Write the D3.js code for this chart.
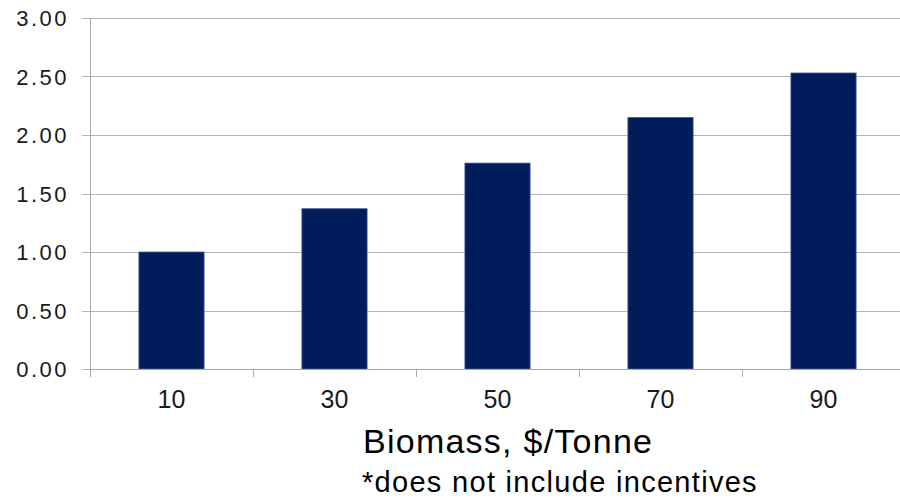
<!DOCTYPE html>
<html>
<head>
<meta charset="utf-8">
<script src="https://cdn.jsdelivr.net/npm/d3@7"></script>
<style>
  html, body { margin: 0; padding: 0; background: #fff; }
  svg { display: block; font-family: "Liberation Sans", Arial, sans-serif; }
</style>
</head>
<body>
<svg id="chart" width="900" height="498"></svg>
<script>
// Biomass price categories ($/tonne) and the resulting values
const categories = ["10", "30", "50", "70", "90"];
const values = [1.00, 1.37, 1.76, 2.15, 2.53];
const yTicks = [0, 0.5, 1.0, 1.5, 2.0, 2.5, 3.0];
const axisTitle = "Biomass, $/Tonne";
const footnote = "*does not include incentives";

const svg = d3.select("#chart");

const plot = { left: 90, right: 905, top: 18, bottom: 369 };

const x = d3.scaleBand()
  .domain(categories)
  .range([plot.left, plot.right])
  .paddingInner(0.6)
  .paddingOuter(0.3);

const y = d3.scaleLinear()
  .domain([0, 3])
  .range([plot.bottom, plot.top]);

// horizontal gridlines with short outer ticks
svg.append("g")
  .selectAll("line")
  .data(yTicks)
  .join("line")
  .attr("x1", plot.left - 8)
  .attr("x2", 900)
  .attr("y1", d => Math.round(y(d)) + 0.5)
  .attr("y2", d => Math.round(y(d)) + 0.5)
  .attr("stroke", "#b4b4b4")
  .attr("stroke-width", 1);

// y tick labels
svg.append("g")
  .selectAll("text")
  .data(yTicks)
  .join("text")
  .attr("x", 69)
  .attr("y", d => y(d) + 8)
  .attr("text-anchor", "end")
  .attr("font-size", 22)
  .attr("letter-spacing", 2.5)
  .attr("fill", "#1a1a1a")
  .text(d => d3.format(".2f")(d));

// bars
svg.append("g")
  .selectAll("rect")
  .data(values)
  .join("rect")
  .attr("x", (d, i) => x(categories[i]))
  .attr("y", d => y(d))
  .attr("width", x.bandwidth())
  .attr("height", d => y(0) - y(d))
  .attr("fill", "#011c5b")
  .attr("stroke", "#4a5c96")
  .attr("stroke-width", 0.8);

// vertical axis line
svg.append("line")
  .attr("x1", plot.left + 0.5).attr("x2", plot.left + 0.5)
  .attr("y1", plot.top).attr("y2", plot.bottom + 8)
  .attr("stroke", "#a8a8a8");

// baseline and category boundary ticks
svg.append("line")
  .attr("x1", plot.left).attr("x2", 900)
  .attr("y1", Math.round(y(0)) + 0.5).attr("y2", Math.round(y(0)) + 0.5)
  .attr("stroke", "#a8a8a8");

svg.append("g")
  .selectAll("line")
  .data(categories.slice(1))
  .join("line")
  .attr("x1", d => Math.round(x(d) - x.step() * x.paddingInner() / 2) + 0.5)
  .attr("x2", d => Math.round(x(d) - x.step() * x.paddingInner() / 2) + 0.5)
  .attr("y1", plot.bottom)
  .attr("y2", plot.bottom + 8)
  .attr("stroke", "#a8a8a8");

// category labels
svg.append("g")
  .selectAll("text")
  .data(categories)
  .join("text")
  .attr("x", d => x(d) + x.bandwidth() / 2)
  .attr("y", 408)
  .attr("text-anchor", "middle")
  .attr("font-size", 25)
  .attr("fill", "#1a1a1a")
  .text(d => d);

// axis title and note
svg.append("text")
  .attr("x", 363)
  .attr("y", 452.5)
  .attr("font-size", 34)
  .attr("letter-spacing", 1.25)
  .attr("fill", "#000")
  .text(axisTitle);

svg.append("text")
  .attr("x", 362)
  .attr("y", 492)
  .attr("font-size", 29)
  .attr("letter-spacing", 1.3)
  .attr("fill", "#000")
  .text(footnote);
</script>
</body>
</html>
